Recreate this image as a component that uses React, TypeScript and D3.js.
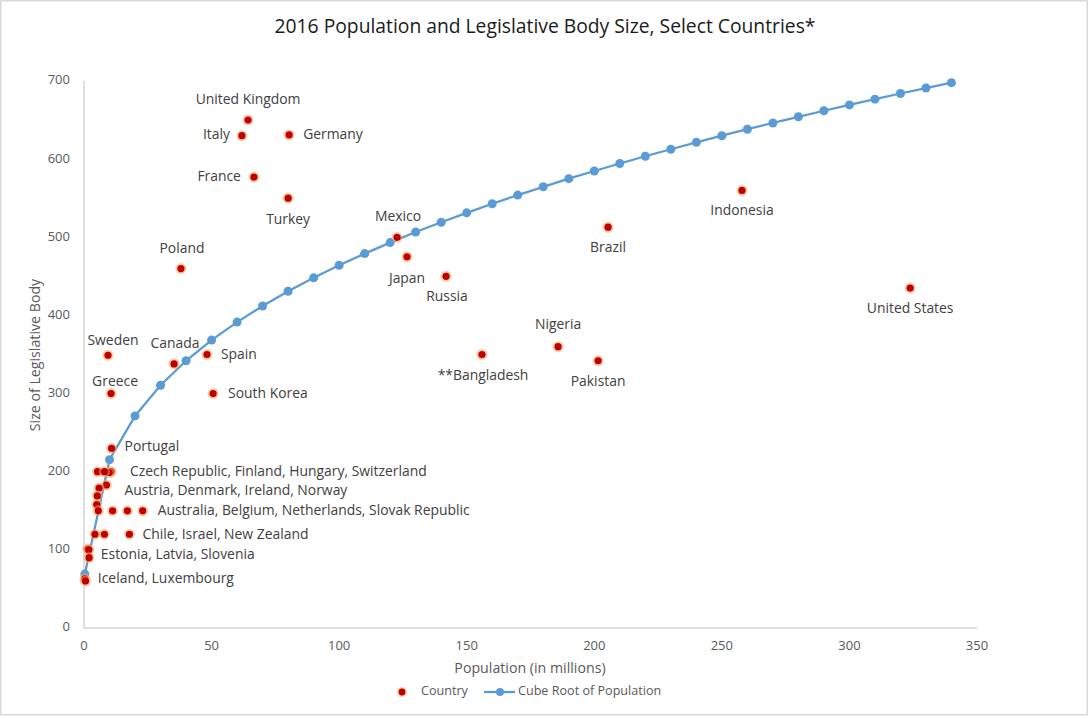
import React from "react";
import * as d3 from "d3";

// ---- Data ----
const countries = [
  "United Kingdom", "Italy", "Germany", "France", "Turkey", "Poland", "Mexico", "Japan",
  "Russia", "Brazil", "Indonesia", "United States", "Nigeria", "Pakistan", "Bangladesh",
  "Canada", "Spain", "South Korea", "Sweden", "Greece", "Portugal",
  "Czech Republic", "Finland", "Hungary", "Switzerland",
  "Austria", "Denmark", "Ireland", "Norway",
  "Australia", "Belgium", "Netherlands", "Slovak Republic",
  "Chile", "Israel", "New Zealand",
  "Estonia", "Latvia", "Slovenia",
  "Iceland", "Luxembourg",
];
const populationMillions = [
  64.3, 61.9, 80.4, 66.6, 80.0, 38.0, 122.7, 126.6,
  141.9, 205.4, 257.9, 323.8, 185.8, 201.5, 156.0,
  35.3, 48.2, 50.6, 9.4, 10.6, 10.8,
  10.6, 5.3, 9.8, 8.0,
  8.8, 5.9, 5.0, 5.2,
  23.0, 11.2, 17.0, 5.6,
  17.8, 8.0, 4.3,
  1.5, 1.9, 2.0,
  0.33, 0.58,
];
const legislatureSize = [
  650, 630, 631, 577, 550, 460, 500, 475,
  450, 513, 560, 435, 360, 342, 350,
  338, 350, 300, 349, 300, 230,
  200, 200, 199, 200,
  183, 179, 158, 169,
  150, 150, 150, 150,
  120, 120, 120,
  101, 100, 90,
  63, 60,
];

const curvePopulation = [
  0.33, 10, 20, 30, 40, 50, 60, 70, 80, 90, 100, 110, 120, 130, 140, 150, 160, 170,
  180, 190, 200, 210, 220, 230, 240, 250, 260, 270, 280, 290, 300, 310, 320, 330, 340,
];
const curveCubeRoot = [
  69, 215.4, 271.4, 310.7, 342.0, 368.4, 391.5, 412.1, 430.9, 448.1, 464.2, 479.1,
  493.2, 506.7, 519.2, 531.3, 542.9, 554.0, 564.6, 575.0, 584.8, 594.4, 603.7, 612.7,
  621.5, 630.0, 638.3, 646.3, 654.2, 661.9, 669.4, 676.8, 684.0, 691.0, 697.9,
];

const xTicks = [0, 50, 100, 150, 200, 250, 300, 350];
const yTicks = [0, 100, 200, 300, 400, 500, 600, 700];

// Label texts, each attached to one country point
const labelTexts = [
  "United Kingdom", "Italy", "Germany", "France", "Turkey", "Poland", "Mexico", "Japan",
  "Russia", "Brazil", "Indonesia", "United States", "Nigeria", "Pakistan", "**Bangladesh",
  "Canada", "Spain", "South Korea", "Sweden", "Greece", "Portugal",
  "Czech Republic, Finland, Hungary, Switzerland",
  "Austria, Denmark, Ireland, Norway",
  "Australia, Belgium, Netherlands, Slovak Republic",
  "Chile, Israel, New Zealand",
  "Estonia, Latvia, Slovenia",
  "Iceland, Luxembourg",
];
const labelAnchors = [
  "United Kingdom", "Italy", "Germany", "France", "Turkey", "Poland", "Mexico", "Japan",
  "Russia", "Brazil", "Indonesia", "United States", "Nigeria", "Pakistan", "Bangladesh",
  "Canada", "Spain", "South Korea", "Sweden", "Greece", "Portugal",
  "Czech Republic", "Austria", "Australia", "Chile", "Estonia", "Iceland",
];

// ---- Layout / styles (kept apart from data) ----
const W = 1090;
const H = 716;
const plot = { left: 84, right: 977, top: 81, bottom: 628 };
const labelPlacement: [number, number, string][] = [
  [0, -20, "middle"], [-12, 0, "end"], [14, 0, "start"], [-13, 0, "end"], [0, 22, "middle"],
  [1, -19, "middle"], [1, -20, "middle"], [0, 22, "middle"], [1, 21, "middle"], [0, 21, "middle"],
  [0, 21, "middle"], [0, 21, "middle"], [0, -21, "middle"], [0, 22, "middle"], [1, 22, "middle"],
  [1, -20, "middle"], [14, 1, "start"], [15, 1, "start"], [5, -14, "middle"], [4, -11, "middle"],
  [13, -1, "start"],
  [19, 1, "start"], [18, 6, "start"], [15, 0, "start"], [13, 1, "start"], [13, 6, "start"],
  [13, 1, "start"],
];

const FONT = "'Open Sans', 'Liberation Sans', sans-serif";
const BLUE = "#5b9bd5";
const RED = "#c00000";
const AXIS = "#bfbfbf";
const TICK_TEXT = "#595959";
const LABEL_TEXT = "#404040";

export default function App() {
  const x = d3.scaleLinear().domain([0, 350]).range([plot.left, plot.right]);
  const y = d3.scaleLinear().domain([0, 700]).range([plot.bottom, plot.top]);

  const curve = curvePopulation.map((p, i) => [p, curveCubeRoot[i]] as [number, number]);
  const linePath = d3
    .line<[number, number]>()
    .x((d) => x(d[0]))
    .y((d) => y(d[1]))(curve) as string;

  const points = countries.map((c, i) => ({ name: c, px: x(populationMillions[i]), py: y(legislatureSize[i]) }));

  return (
    <svg
      width={W}
      height={H}
      style={{ position: "absolute", left: 0, top: 0, background: "#fff" }}
      fontFamily={FONT}
    >
      <rect x={0.75} y={0.75} width={W - 3.5} height={H - 2} fill="#fff" stroke="#d9d9d9" strokeWidth={1.5} />

      {/* title */}
      <text x={545} y={28} textAnchor="middle" dominantBaseline="middle" fontSize={19.3} fill="#1a1a1a">
        2016 Population and Legislative Body Size, Select Countries*
      </text>

      {/* axes */}
      <line x1={plot.left} x2={plot.left} y1={plot.top} y2={plot.bottom} stroke={AXIS} strokeWidth={1} />
      <line x1={plot.left} x2={plot.right} y1={plot.bottom} y2={plot.bottom} stroke={AXIS} strokeWidth={1} />

      {yTicks.map((t) => (
        <text key={"y" + t} x={70} y={y(t)} textAnchor="end" dominantBaseline="middle" fontSize={13} fill={TICK_TEXT}>
          {t}
        </text>
      ))}
      {xTicks.map((t) => (
        <text key={"x" + t} x={x(t)} y={647} textAnchor="middle" dominantBaseline="middle" fontSize={13} fill={TICK_TEXT}>
          {t}
        </text>
      ))}

      <text x={530} y={669} textAnchor="middle" dominantBaseline="middle" fontSize={14.2} fill={TICK_TEXT}>
        Population (in millions)
      </text>
      <text
        transform={`translate(36, 355) rotate(-90)`}
        textAnchor="middle"
        dominantBaseline="middle"
        fontSize={14.2}
        fill={TICK_TEXT}
      >
        Size of Legislative Body
      </text>

      {/* cube root line */}
      <path d={linePath} fill="none" stroke={BLUE} strokeWidth={2.25} />
      {curve.map((d, i) => (
        <circle key={"c" + i} cx={x(d[0])} cy={y(d[1])} r={4.5} fill={BLUE} />
      ))}

      {/* country points */}
      {points.map((p, i) => (
        <g key={"p" + i}>
          <circle cx={p.px} cy={p.py} r={5.5} fill="#f4a460" opacity={0.55} />
          <circle cx={p.px} cy={p.py} r={3.6} fill={RED} />
        </g>
      ))}

      {/* labels */}
      {labelTexts.map((t, i) => {
        const idx = countries.indexOf(labelAnchors[i]);
        const p = points[idx];
        const [dx, dy, anchor] = labelPlacement[i];
        return (
          <text
            key={"l" + i}
            x={p.px + dx}
            y={p.py + dy}
            textAnchor={anchor}
            dominantBaseline="middle"
            fontSize={13.9}
            fill={LABEL_TEXT}
          >
            {t}
          </text>
        );
      })}

      {/* legend */}
      <circle cx={402} cy={692} r={5} fill="#f4a460" opacity={0.55} />
      <circle cx={402} cy={692} r={3.4} fill={RED} />
      <text x={421} y={692} dominantBaseline="middle" fontSize={12.6} fill={TICK_TEXT}>
        Country
      </text>
      <line x1={484} x2={515} y1={692} y2={692} stroke={BLUE} strokeWidth={2.25} />
      <circle cx={500} cy={692} r={4} fill={BLUE} />
      <text x={518} y={692} dominantBaseline="middle" fontSize={12.6} fill={TICK_TEXT}>
        Cube Root of Population
      </text>
    </svg>
  );
}
